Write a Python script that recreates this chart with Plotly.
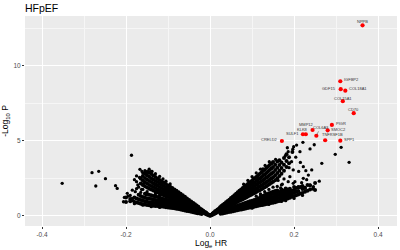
import plotly.graph_objects as go

# ---------------- data ----------------
# significant proteins (red)
sig_genes = ["NPPB", "IGFBP2", "GDF15", "COL18A1", "COL15A1", "CD70", "PIGR", "SMOC2",
             "MMP12", "COL6A3", "SULF1", "KLK8", "TNFRSF1B", "SPP1", "CRELD2"]
sig_loghr = [0.363, 0.310, 0.311, 0.322, 0.316, 0.342, 0.290, 0.280,
             0.244, 0.253, 0.221, 0.228, 0.274, 0.310, 0.171]
sig_logp = [12.69, 8.96, 8.43, 8.33, 7.63, 6.83, 6.05, 5.69,
            5.71, 5.33, 5.43, 5.43, 5.03, 5.00, 4.98]

# non-significant proteins (black), columns of (log HR, [-log10 p values])
right_upper = [
    (0.000, [0.00, 0.02]), (0.003, [0.03, 0.07]), (0.006, [0.07, 0.12, 0.15]),
    (0.009, [0.11, 0.17, 0.22]), (0.012, [0.15, 0.22, 0.29]), (0.015, [0.20, 0.27, 0.35]),
    (0.018, [0.24, 0.32, 0.41]), (0.021, [0.29, 0.37, 0.47]),
    (0.024, [0.33, 0.43, 0.53, 0.57]), (0.027, [0.38, 0.48, 0.58, 0.64]),
    (0.030, [0.42, 0.53, 0.63, 0.71]), (0.034, [0.48, 0.59, 0.70, 0.80]),
    (0.038, [0.54, 0.66, 0.78, 0.89]), (0.042, [0.59, 0.72, 0.85, 0.98]),
    (0.046, [0.65, 0.78, 0.92, 1.07]), (0.050, [0.71, 0.84, 0.98, 1.12, 1.18]),
    (0.054, [0.76, 0.90, 1.05, 1.20, 1.27]), (0.058, [0.82, 0.97, 1.12, 1.27, 1.37]),
    (0.062, [0.88, 1.03, 1.19, 1.34, 1.46]), (0.066, [0.93, 1.09, 1.26, 1.42, 1.56]),
    (0.070, [0.99, 1.16, 1.33, 1.50, 1.66]), (0.074, [1.05, 1.22, 1.40, 1.58, 1.75]),
    (0.078, [1.10, 1.28, 1.47, 1.66, 1.84]), (0.082, [1.16, 1.35, 1.54, 1.74, 1.94]),
    (0.086, [1.22, 1.41, 1.61, 1.82, 2.03]), (0.090, [1.28, 1.48, 1.68, 1.90, 2.12]),
    (0.094, [1.34, 1.54, 1.76, 1.98, 2.21]), (0.098, [1.40, 1.61, 1.83, 2.06, 2.30]),
    (0.102, [1.46, 1.68, 1.91, 2.14, 2.40]), (0.106, [1.52, 1.75, 1.98, 2.22, 2.49]),
    (0.110, [1.58, 1.82, 2.06, 2.31, 2.58]), (0.114, [1.64, 1.88, 2.13, 2.39, 2.68]),
    (0.118, [1.70, 1.95, 2.21, 2.48, 2.78]), (0.122, [1.77, 2.02, 2.29, 2.57, 2.88]),
    (0.126, [1.83, 2.09, 2.37, 2.66, 2.98, 3.10]), (0.130, [1.90, 2.16, 2.45, 2.75, 3.06]),
    (0.134, [1.97, 2.24, 2.54, 2.85, 3.18]), (0.138, [2.04, 2.32, 2.62, 2.94, 3.28]),
    (0.142, [2.11, 2.40, 2.71, 3.04, 3.38]), (0.146, [2.19, 2.48, 2.80, 3.14, 3.48]),
    (0.150, [2.27, 2.57, 2.90, 3.24, 3.58]), (0.155, [2.37, 2.70, 3.04, 3.40]),
    (0.160, [2.50, 2.85, 3.20, 3.62]), (0.165, [2.65, 3.00, 3.38, 3.70]),
    (0.170, [2.80, 3.18, 3.55]), (0.176, [3.00, 3.40, 3.85]),
    (0.182, [3.25, 3.65, 4.10]), (0.188, [3.50, 3.90]), (0.196, [4.25]),
]

right_lower = [
    (0.025, [0.13, 0.20]), (0.030, [0.15, 0.22, 0.29]), (0.035, [0.18, 0.26, 0.34]),
    (0.040, [0.21, 0.29, 0.38]), (0.045, [0.24, 0.33, 0.42]),
    (0.050, [0.27, 0.36, 0.45, 0.52]), (0.055, [0.30, 0.39, 0.49, 0.57]),
    (0.060, [0.33, 0.43, 0.53, 0.62]), (0.065, [0.36, 0.46, 0.57, 0.67]),
    (0.070, [0.39, 0.50, 0.61, 0.72]), (0.075, [0.42, 0.53, 0.65, 0.77]),
    (0.080, [0.45, 0.57, 0.69, 0.82]), (0.085, [0.48, 0.60, 0.73, 0.87]),
    (0.090, [0.51, 0.64, 0.77, 0.91]), (0.095, [0.54, 0.67, 0.81, 0.96]),
    (0.100, [0.57, 0.71, 0.85, 1.00]), (0.105, [0.60, 0.74, 0.89, 1.05]),
    (0.110, [0.63, 0.78, 0.93, 1.10]), (0.115, [0.66, 0.81, 0.97, 1.14]),
    (0.120, [0.69, 0.85, 1.01, 1.18, 1.26]), (0.125, [0.72, 0.88, 1.05, 1.22, 1.32]),
    (0.130, [0.75, 0.92, 1.09, 1.27, 1.38]), (0.135, [0.78, 0.95, 1.13, 1.31, 1.44]),
    (0.140, [0.81, 0.99, 1.17, 1.36, 1.50]), (0.145, [0.84, 1.02, 1.21, 1.40, 1.55]),
    (0.150, [0.87, 1.06, 1.25, 1.45, 1.60]), (0.155, [0.90, 1.10, 1.29, 1.50, 1.64]),
    (0.160, [0.94, 1.14, 1.34, 1.54, 1.68]), (0.165, [0.98, 1.18, 1.38, 1.58]),
    (0.170, [1.02, 1.22, 1.42, 1.62, 1.75]), (0.175, [1.06, 1.26, 1.46, 1.66]),
    (0.180, [1.10, 1.30, 1.50, 1.70, 1.82]), (0.185, [1.15, 1.35, 1.55, 1.75]),
    (0.190, [1.20, 1.40, 1.60, 1.80]), (0.195, [1.26, 1.48, 1.66]),
    (0.200, [1.30, 1.52, 1.72, 1.92]), (0.205, [1.36, 1.60, 1.84]),
    (0.210, [1.42, 1.65, 1.88]), (0.215, [1.48, 1.92]), (0.220, [1.52, 1.78, 1.98]),
    (0.226, [1.60, 1.86]), (0.232, [1.66, 2.05]), (0.238, [1.75, 2.02]),
    (0.245, [1.80]), (0.250, [1.71, 2.18]),
]

left_upper = [
    (-0.003, [0.03, 0.06]), (-0.006, [0.07, 0.11]), (-0.009, [0.10, 0.15, 0.19]),
    (-0.012, [0.14, 0.20, 0.25]), (-0.016, [0.19, 0.26, 0.33]), (-0.020, [0.24, 0.32, 0.41]),
    (-0.024, [0.29, 0.38, 0.48]), (-0.028, [0.34, 0.44, 0.55, 0.60]),
    (-0.032, [0.39, 0.50, 0.61, 0.68]), (-0.036, [0.44, 0.56, 0.67, 0.76]),
    (-0.040, [0.49, 0.61, 0.73, 0.84]), (-0.045, [0.55, 0.68, 0.81, 0.94]),
    (-0.050, [0.62, 0.75, 0.89, 1.04]), (-0.055, [0.68, 0.82, 0.97, 1.14]),
    (-0.060, [0.74, 0.89, 1.04, 1.19, 1.26]), (-0.065, [0.80, 0.95, 1.11, 1.27, 1.36]),
    (-0.070, [0.86, 1.02, 1.18, 1.34, 1.46]), (-0.075, [0.93, 1.09, 1.25, 1.42, 1.56]),
    (-0.080, [0.99, 1.16, 1.33, 1.50, 1.66]), (-0.085, [1.05, 1.22, 1.40, 1.58, 1.75]),
    (-0.090, [1.11, 1.29, 1.47, 1.66, 1.84]), (-0.095, [1.18, 1.36, 1.55, 1.74, 1.93]),
    (-0.100, [1.24, 1.43, 1.62, 1.82, 2.02]), (-0.105, [1.30, 1.50, 1.70, 1.90, 2.11]),
    (-0.110, [1.36, 1.56, 1.77, 1.98, 2.20]), (-0.115, [1.43, 1.63, 1.85, 2.06, 2.30]),
    (-0.120, [1.49, 1.70, 1.92, 2.15, 2.38]), (-0.125, [1.55, 1.77, 2.00, 2.24, 2.48]),
    (-0.130, [1.61, 1.84, 2.08, 2.32, 2.58]), (-0.135, [1.68, 1.91, 2.16, 2.41, 2.68]),
    (-0.140, [1.74, 1.98, 2.24, 2.50, 2.78]), (-0.145, [1.80, 2.05, 2.32, 2.60, 2.86]),
    (-0.150, [1.88, 2.14, 2.42, 2.70, 2.92]), (-0.155, [1.96, 2.24, 2.52, 2.80]),
    (-0.160, [2.04, 2.35, 2.65]), (-0.165, [2.15, 2.50]),
]

left_lower = [
    (-0.020, [0.12, 0.18]), (-0.025, [0.15, 0.22]), (-0.030, [0.17, 0.25, 0.32]),
    (-0.035, [0.20, 0.28, 0.36]), (-0.040, [0.23, 0.32, 0.41]), (-0.045, [0.26, 0.35, 0.45]),
    (-0.050, [0.29, 0.39, 0.50]), (-0.055, [0.32, 0.42, 0.54]), (-0.060, [0.35, 0.46, 0.58]),
    (-0.065, [0.38, 0.49, 0.62, 0.70]), (-0.070, [0.41, 0.53, 0.66, 0.75]),
    (-0.075, [0.44, 0.56, 0.70, 0.80]), (-0.080, [0.46, 0.59, 0.73, 0.85]),
    (-0.085, [0.49, 0.62, 0.77, 0.90]), (-0.090, [0.51, 0.65, 0.81, 0.95]),
    (-0.095, [0.53, 0.68, 0.84, 1.00]), (-0.100, [0.55, 0.70, 0.87, 1.04]),
    (-0.105, [0.57, 0.73, 0.90, 1.08]), (-0.110, [0.59, 0.75, 0.93, 1.12]),
    (-0.115, [0.61, 0.78, 0.96, 1.16]), (-0.120, [0.62, 0.80, 0.99, 1.20]),
    (-0.125, [0.64, 0.82, 1.02, 1.24]), (-0.130, [0.65, 0.84, 1.05, 1.28]),
    (-0.135, [0.66, 0.86, 1.08, 1.32]), (-0.140, [0.68, 0.88, 1.11, 1.36]),
    (-0.145, [0.70, 0.90, 1.14, 1.40]), (-0.150, [0.72, 0.93, 1.17, 1.44]),
    (-0.155, [0.74, 0.96, 1.20, 1.46]), (-0.160, [0.77, 1.00, 1.25]),
    (-0.165, [0.80, 1.05, 1.32]), (-0.170, [0.84, 1.10, 1.40]),
    (-0.175, [0.88, 1.15]), (-0.180, [0.92, 1.22]), (-0.190, [0.96, 1.12]),
    (-0.200, [0.92, 1.22]),
]

scatter_x = [-0.352, -0.281, -0.265, -0.272, -0.249, -0.225, -0.221, -0.187, -0.167, -0.146,
             -0.206, -0.204, -0.197, -0.183, -0.175, -0.175, -0.170, -0.165, -0.160, -0.155,
             -0.178, -0.190, -0.185, -0.172, -0.158, -0.150, -0.163, -0.140, -0.168,
             -0.130, -0.138, -0.120, -0.112, -0.105, -0.095, -0.150, -0.160, -0.175, -0.180,
             -0.162, -0.145, -0.152, -0.165, -0.130, -0.120, -0.185, -0.195, -0.160, -0.140,
             -0.120, -0.180,
             0.298, 0.331, 0.266, 0.221, 0.206, 0.242, 0.222, 0.198, 0.234, 0.222, 0.202,
             0.246, 0.238, 0.184, 0.197, 0.238, 0.248, 0.312, 0.199, 0.214, 0.186, 0.179,
             0.194, 0.204, 0.186, 0.198, 0.210, 0.226, 0.206, 0.260, 0.230, 0.215, 0.190,
             0.170, 0.176, 0.188, 0.211, 0.228, 0.218, 0.162, 0.168,
             0.120, 0.110, 0.100, 0.131, 0.141, 0.156, 0.090, 0.080, 0.130, 0.140, 0.120,
             0.160, 0.172, 0.150, 0.110, 0.100, 0.140, 0.180, 0.200, 0.220, 0.170]
scatter_y = [2.16, 2.87, 2.96, 1.98, 2.47, 2.00, 1.82, 4.03, 3.09, 2.93,
             0.93, 1.22, 1.49, 1.00, 2.65, 2.27, 1.90, 2.45, 2.85, 3.00,
             1.60, 1.35, 1.15, 2.05, 2.15, 2.92, 1.75, 2.95, 2.55,
             2.80, 2.95, 2.62, 2.45, 2.30, 2.12, 1.60, 1.75, 1.80, 2.40,
             2.95, 3.10, 1.40, 1.55, 1.45, 1.35, 1.70, 1.30, 0.70, 0.60,
             0.55, 0.80,
             4.09, 3.56, 3.49, 4.89, 4.71, 3.05, 3.27, 3.05, 2.71, 2.49, 2.27,
             1.93, 2.05, 4.53, 4.43, 4.45, 4.73, 4.56, 4.60, 4.27, 4.27, 3.98,
             3.60, 3.90, 2.27, 2.16, 1.93, 1.83, 1.60, 2.30, 2.40, 3.55, 2.60,
             2.05, 2.45, 3.20, 2.95, 3.00, 2.20, 2.35, 1.85,
             3.10, 2.85, 2.60, 3.35, 3.60, 3.75, 2.35, 2.10, 1.60, 1.75, 1.45,
             1.95, 2.10, 1.90, 1.30, 0.50, 0.75, 1.00, 1.15, 1.35, 0.95]

# ---------------- build ----------------
bx, by = [], []
for group in (right_upper, right_lower, left_upper, left_lower):
    for xv, ys in group:
        for yv in ys:
            bx.append(xv)
            by.append(yv)

fig = go.Figure()
fig.add_trace(go.Scatter(x=bx, y=by, mode="markers",
                         marker=dict(color="black", size=4.0, line=dict(width=0)),
                         hoverinfo="skip", showlegend=False))
fig.add_trace(go.Scatter(x=scatter_x, y=scatter_y, mode="markers",
                         marker=dict(color="black", size=3.3, line=dict(width=0)),
                         hoverinfo="skip", showlegend=False))
fig.add_trace(go.Scatter(x=sig_loghr, y=sig_logp, mode="markers",
                         marker=dict(color="#FF0000", size=4.2, line=dict(width=0)),
                         text=sig_genes, showlegend=False))

# label placement (style): dx, dy in axis units, anchor, connector line
label_style = [
    (0.001, 0.25, "center", False), (0.005, 0.12, "left", False),
    (-0.007, 0.07, "right", False), (0.005, 0.13, "left", False),
    (0.000, 0.21, "center", False), (0.000, 0.25, "center", False),
    (0.004, 0.08, "left", False), (0.004, 0.07, "left", False),
    (-0.014, 0.38, "center", True), (0.010, 0.56, "center", True),
    (-0.004, 0.02, "right", False), (-0.007, 0.33, "center", False),
    (0.017, 0.35, "center", False), (0.004, 0.06, "left", False),
    (-0.004, 0.11, "right", False),
]
lab_font = dict(size=4, color="#333333", family="Liberation Sans")
for g, xv, yv, (dx, dy, anc, line) in zip(sig_genes, sig_loghr, sig_logp, label_style):
    if line:
        fig.add_annotation(x=xv, y=yv, ax=xv + dx, ay=yv + dy, axref="x", ayref="y",
                           text=g, showarrow=True, arrowhead=0, arrowwidth=0.5,
                           arrowcolor="#444444", standoff=1, font=lab_font)
    else:
        fig.add_annotation(x=xv + dx, y=yv + dy, text=g, showarrow=False,
                           xanchor=anc, yanchor="middle", font=lab_font)

fig.update_layout(
    width=400, height=250,
    margin=dict(l=25, r=3, t=16, b=24),
    paper_bgcolor="white", plot_bgcolor="#EBEBEB",
    font=dict(family="Liberation Sans", color="black"),
    title=dict(text="HFpEF", x=25 / 400, xanchor="left", xref="container",
               y=1 - 8 / 250, yanchor="middle", yref="container",
               font=dict(size=10.5, color="black")),
)
axis_common = dict(showline=False, zeroline=False, gridcolor="white", gridwidth=0.9,
                   ticks="outside", ticklen=2, tickwidth=0.6, tickcolor="#333333",
                   tickfont=dict(size=6.5, color="#4D4D4D"))
fig.update_xaxes(range=[-0.4405, 0.445], tickvals=[-0.4, -0.2, 0.0, 0.2, 0.4],
                 ticktext=["-0.4", "-0.2", "0.0", "0.2", "0.4"],
                 minor=dict(tickvals=[-0.3, -0.1, 0.1, 0.3], showgrid=True,
                            gridcolor="#F6F6F6", gridwidth=0.5, ticks=""),
                 title=dict(text="Log<sub>e</sub> HR", font=dict(size=8.5), standoff=3),
                 **axis_common)
fig.update_yaxes(range=[-0.687, 13.31], tickvals=[0, 5, 10],
                 minor=dict(tickvals=[2.5, 7.5, 12.5], showgrid=True,
                            gridcolor="#F6F6F6", gridwidth=0.5, ticks=""),
                 title=dict(text="-Log<sub>10</sub> P", font=dict(size=8.5), standoff=3),
                 **axis_common)

fig.write_html("out.html")
